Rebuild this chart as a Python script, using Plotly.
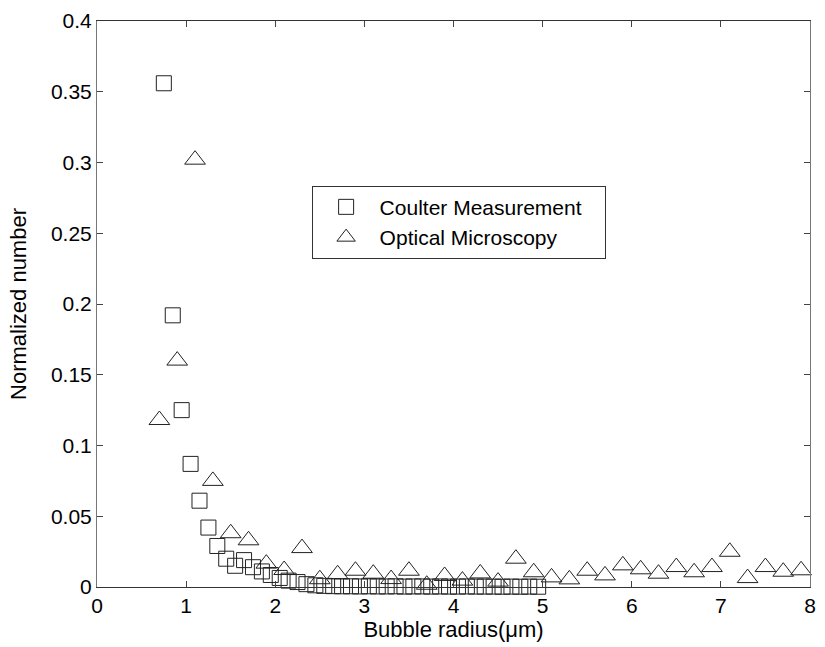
import plotly.graph_objects as go

coulter_x = [0.75, 0.85, 0.95, 1.05, 1.15, 1.25, 1.35, 1.45, 1.55, 1.65, 1.75, 1.85, 1.95,
             2.05, 2.15, 2.25, 2.35, 2.45, 2.55, 2.65, 2.75, 2.85, 2.95, 3.05, 3.15, 3.25,
             3.35, 3.45, 3.55, 3.65, 3.75, 3.85, 3.95, 4.05, 4.15, 4.25, 4.35, 4.45, 4.55,
             4.65, 4.75, 4.85, 4.95]
coulter_y = [0.356, 0.192, 0.125, 0.087, 0.061, 0.042, 0.029, 0.020, 0.015, 0.019, 0.014, 0.011, 0.0085,
             0.0064, 0.0045, 0.0035, 0.002, 0.0012, 0.0008, 0.0006, 0.0005, 0.0005, 0.0004, 0.0005, 0.0004, 0.0004,
             0.0005, 0.0003, 0.0004, 0.0004, 0.0003, 0.0004, 0.0003, 0.0003, 0.0004, 0.0003, 0.0003, 0.0003, 0.0002,
             0.0003, 0.0002, 0.0003, 0.0002]

optical_x = [0.7, 0.9, 1.1, 1.3, 1.5, 1.7, 1.9, 2.1, 2.3, 2.5, 2.7, 2.9, 3.1, 3.3, 3.5, 3.7, 3.9,
             4.1, 4.3, 4.5, 4.7, 4.9, 5.1, 5.3, 5.5, 5.7, 5.9, 6.1, 6.3, 6.5, 6.7, 6.9, 7.1,
             7.3, 7.5, 7.7, 7.9]
optical_y = [0.118, 0.160, 0.302, 0.075, 0.038, 0.033, 0.0165, 0.012, 0.0275, 0.0055, 0.009, 0.0115,
             0.0094, 0.0056, 0.0115, 0.0016, 0.0078, 0.0045, 0.0096, 0.0038, 0.020, 0.0104, 0.0068,
             0.0054, 0.0115, 0.0082, 0.0153, 0.0125, 0.0094, 0.0141, 0.0104, 0.0141, 0.0249, 0.0063,
             0.0141, 0.0108, 0.0118]

x_ticks = [0, 1, 2, 3, 4, 5, 6, 7, 8]
y_ticks = [0, 0.05, 0.1, 0.15, 0.2, 0.25, 0.3, 0.35, 0.4]
y_tick_labels = ["0", "0.05", "0.1", "0.15", "0.2", "0.25", "0.3", "0.35", "0.4"]

FONT = "Liberation Sans, Arial, sans-serif"

fig = go.Figure()
fig.add_trace(go.Scatter(
    x=coulter_x, y=coulter_y, mode="markers", name="Coulter Measurement\u00a0\u00a0\u00a0",
    marker=dict(symbol="square-open", size=15, color="#222222", line=dict(width=1, color="#222222")),
    cliponaxis=False,
))
fig.add_trace(go.Scatter(
    x=optical_x, y=optical_y, mode="markers", name="Optical Microscopy",
    marker=dict(symbol="triangle-up-open", size=18, color="#222222", line=dict(width=1, color="#222222")),
    cliponaxis=False,
))

fig.update_layout(
    width=825, height=647,
    margin=dict(l=97, r=9, t=20, b=60),
    paper_bgcolor="white", plot_bgcolor="white",
    font=dict(family=FONT, size=22, color="black"),
    showlegend=True,
    legend=dict(
        x=0.301, y=0.709, xanchor="left", yanchor="top",
        bordercolor="#333333", borderwidth=1, bgcolor="white",
        font=dict(family=FONT, size=21, color="black"),
        tracegroupgap=0, itemwidth=57,
    ),
)
fig.update_xaxes(
    range=[0, 8], tickvals=x_ticks, ticks="inside", ticklen=6, tickcolor="#444444",
    showline=True, linecolor="#333333", linewidth=1, mirror="ticks",
    showgrid=False, zeroline=False,
    title=dict(text="Bubble radius(\u03bcm)", font=dict(family=FONT, size=22), standoff=2),
    tickfont=dict(family=FONT, size=21),
)
fig.update_yaxes(
    range=[0, 0.4], tickvals=y_ticks, ticktext=y_tick_labels, ticks="inside", ticklen=6,
    tickcolor="#444444",
    showline=True, linecolor="#777777", linewidth=1, mirror="ticks",
    showgrid=False, zeroline=False,
    title=dict(text="Normalized number", font=dict(family=FONT, size=22), standoff=18),
    tickfont=dict(family=FONT, size=21),
)

fig.write_html("out.html")
